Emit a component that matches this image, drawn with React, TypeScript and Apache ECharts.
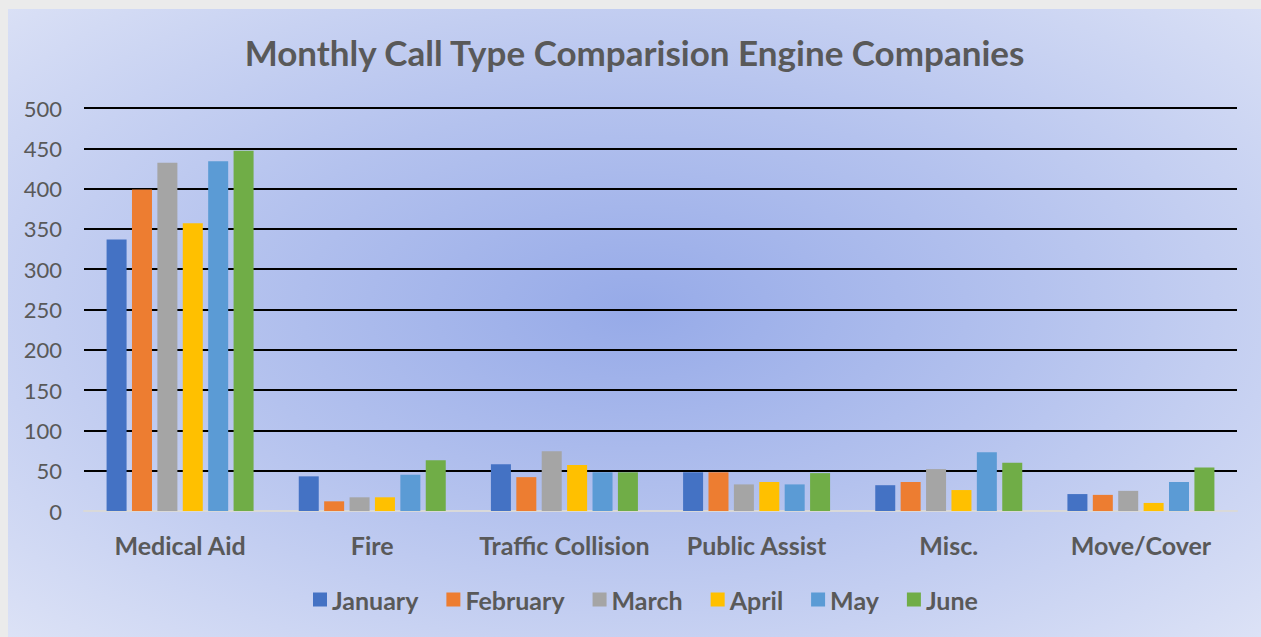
import React, { useEffect, useRef } from "react";
import * as echarts from "echarts";

const categories = ["Medical Aid", "Fire", "Traffic Collision", "Public Assist", "Misc.", "Move/Cover"];
const months = ["January", "February", "March", "April", "May", "June"];
const january = [337, 43, 58, 48, 32, 21];
const february = [399, 12, 42, 48, 36, 20];
const march = [432, 17, 74, 33, 52, 25];
const april = [357, 17, 57, 36, 26, 10];
const may = [434, 45, 48, 33, 73, 36];
const june = [447, 63, 48, 47, 60, 54];
const seriesValues = [january, february, march, april, may, june];
const colors = ["#4472C4", "#ED7D31", "#A5A5A5", "#FFC000", "#5B9BD5", "#70AD47"];

const FONT = "Lato";

export default function App() {
  const ref = useRef<HTMLDivElement>(null);
  useEffect(() => {
    if (!ref.current) return;
    const chart = echarts.init(ref.current, null, { renderer: "svg" });
    chart.setOption({
      animation: false,
      backgroundColor: "transparent",
      title: {
        text: "Monthly Call Type Comparision Engine Companies",
        left: "center",
        top: 20,
        textStyle: { fontFamily: FONT, fontSize: 35, fontWeight: "bold", color: "#595959" },
      },
      legend: {
        data: months,
        bottom: 20,
        left: 300,
        itemWidth: 14,
        itemHeight: 14,
        itemGap: 28,
        icon: "rect",
        textStyle: { fontFamily: FONT, fontSize: 25, fontWeight: "bold", color: "#595959" },
      },
      grid: { left: 76, right: 24, top: 99, bottom: 126, containLabel: false },
      xAxis: {
        type: "category",
        data: categories,
        axisLine: { show: true, lineStyle: { color: "#d9d9d9", width: 2 } },
        axisTick: { show: false },
        axisLabel: { interval: 0, fontFamily: FONT, fontSize: 25, fontWeight: "bold", color: "#595959", margin: 21 },
      },
      yAxis: {
        type: "value",
        min: 0,
        max: 500,
        interval: 50,
        axisLine: { show: false },
        axisTick: { show: false },
        axisLabel: { fontFamily: FONT, fontSize: 22, color: "#595959", margin: 22 },
        splitLine: { lineStyle: { color: "#000000", width: 2 } },
      },
      series: months.map((m, i) => ({
        name: m,
        type: "bar",
        data: seriesValues[i],
        barWidth: 20,
        barGap: "27%",
        itemStyle: { color: colors[i] },
        z: 3,
      })),
    });
    return () => chart.dispose();
  }, []);
  return (
    <div style={{ position: "fixed", left: 0, top: 0, width: 1261, height: 637, background: "#ebebeb" }}>
      <div
        ref={ref}
        style={{
          position: "absolute",
          left: 8,
          top: 9,
          width: 1253,
          height: 628,
          background: "radial-gradient(ellipse farthest-corner at 50% 48%, #96aae8 0%, #b4c2ee 45%, #dce2f6 100%)",
        }}
      />
    </div>
  );
}
